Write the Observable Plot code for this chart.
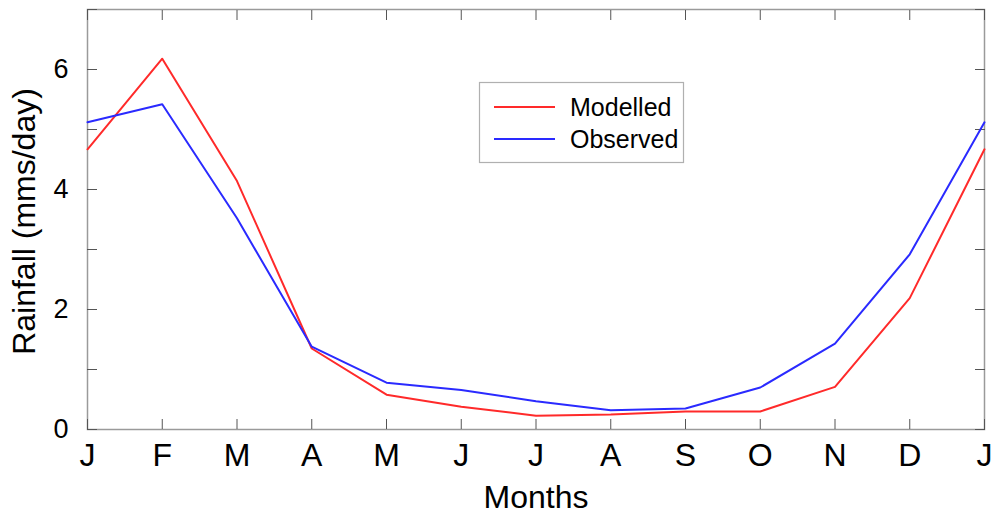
<!DOCTYPE html>
<html>
<head>
<meta charset="utf-8">
<script src="https://cdn.jsdelivr.net/npm/d3@7"></script>
<script src="https://cdn.jsdelivr.net/npm/@observablehq/plot@0.6"></script>
<style>
  html, body { margin: 0; padding: 0; background: #fff; }
  #chart { width: 995px; height: 514px; }
  svg { font-family: "Liberation Sans", Arial, sans-serif; }
</style>
</head>
<body>
<div id="chart"></div>
<script>
const monthLabels = ["J","F","M","A","M","J","J","A","S","O","N","D","J"];
const modelled = [4.67, 6.18, 4.14, 1.35, 0.58, 0.38, 0.23, 0.25, 0.30, 0.30, 0.71, 2.19, 4.67];
const observed = [5.12, 5.42, 3.52, 1.38, 0.78, 0.66, 0.47, 0.32, 0.35, 0.70, 1.43, 2.92, 5.12];
const yMajorTicks = [0, 2, 4, 6];
const yMinorTicks = [0, 1, 2, 3, 4, 5, 6, 7];
const seriesNames = ["Modelled", "Observed"];
const seriesColors = ["#ff2a2a", "#2a2aff"];

const monthIdx = monthLabels.map((_, i) => i);
const rows = [];
monthIdx.forEach(i => rows.push({i, v: modelled[i], s: "Modelled"}));
monthIdx.forEach(i => rows.push({i, v: observed[i], s: "Observed"}));

const W = 995, H = 514;
const plot = Plot.plot({
  width: W, height: H,
  marginLeft: 87, marginRight: 11, marginTop: 9, marginBottom: 85,
  x: {domain: [0, 12]},
  y: {domain: [0, 7]},
  color: {domain: seriesNames, range: seriesColors},
  marks: [
    Plot.frame({stroke: "#9a9a9a", strokeWidth: 1.5}),
    // inward ticks
    Plot.axisX(monthIdx, {anchor: "bottom", tickSize: -10, fill: "none", stroke: "#555", tickFormat: () => "", label: null}),
    Plot.axisX(monthIdx, {anchor: "top", tickSize: -10, fill: "none", stroke: "#555", tickFormat: () => "", label: null}),
    Plot.axisY(yMinorTicks, {anchor: "left", tickSize: -10, fill: "none", stroke: "#555", tickFormat: () => "", label: null}),
    Plot.axisY(yMinorTicks, {anchor: "right", tickSize: -10, fill: "none", stroke: "#555", tickFormat: () => "", label: null}),
    // labels
    Plot.axisX(monthIdx, {anchor: "bottom", tickSize: 0, tickPadding: 14, tickFormat: i => monthLabels[i], fontSize: 32, fill: "#000", label: null}),
    Plot.axisY(yMajorTicks, {anchor: "left", tickSize: 0, tickPadding: 19, tickFormat: d => String(d), fontSize: 27, fill: "#000", label: null}),
    Plot.text(["Months"], {frameAnchor: "bottom", textAnchor: "middle", lineAnchor: "top", dy: 56, fontSize: 32, fill: "#000"}),
    Plot.text(["Rainfall (mms/day)"], {frameAnchor: "left", textAnchor: "middle", rotate: -90, lineAnchor: "top", dx: -75, dy: 2, fontSize: 32, fill: "#000"}),
    Plot.line(rows, {x: "i", y: "v", z: "s", stroke: "s", strokeWidth: 2})
  ]
});
document.getElementById("chart").appendChild(plot);

// legend
const svg = d3.select(plot);
const lg = svg.append("g").attr("font-family", "'Liberation Sans', Arial, sans-serif").attr("text-anchor", "start");
lg.append("rect").attr("x", 479.5).attr("y", 82.5).attr("width", 204).attr("height", 80)
  .attr("fill", "#fff").attr("stroke", "#b0b0b0").attr("stroke-width", 1.2);
seriesNames.forEach((name, k) => {
  const yy = 107 + k * 32;
  lg.append("line").attr("x1", 494).attr("x2", 555).attr("y1", yy).attr("y2", yy)
    .attr("stroke", seriesColors[k]).attr("stroke-width", 2);
  lg.append("text").attr("x", 570).attr("y", yy + 9).attr("font-size", 25).attr("fill", "#000")
    .attr("text-anchor", "start").text(name);
});
</script>
</body>
</html>
